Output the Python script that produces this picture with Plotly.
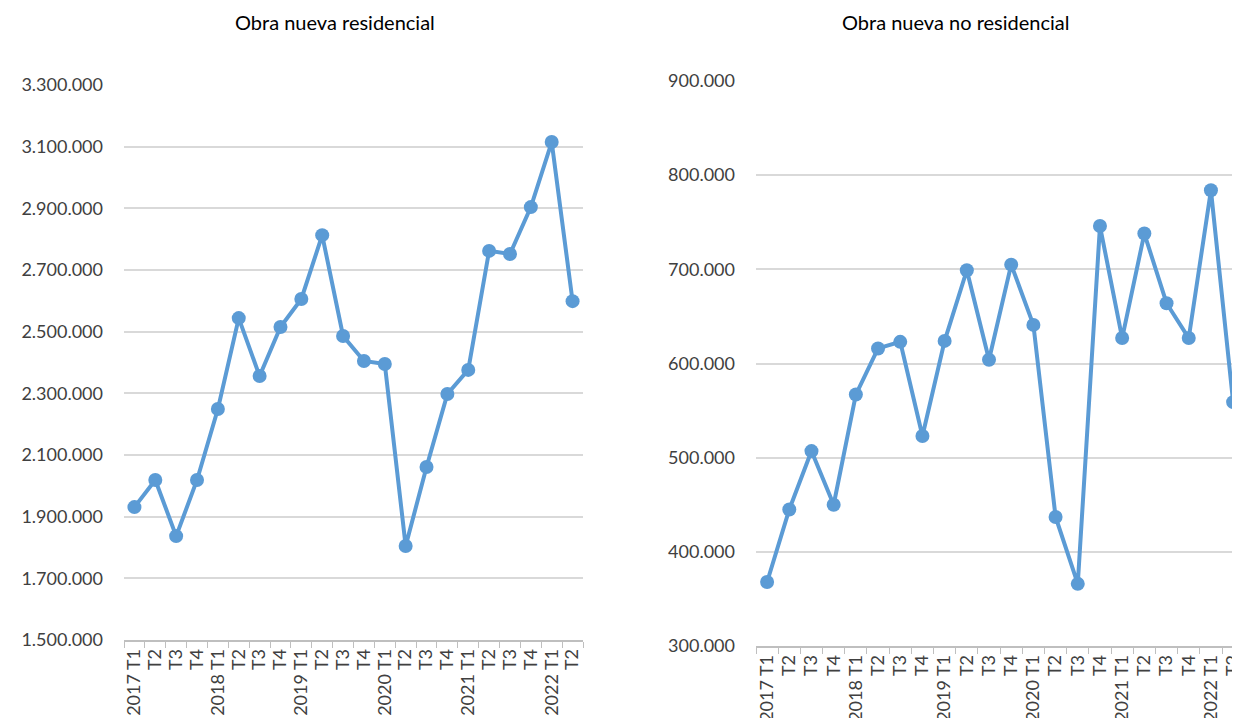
import plotly.graph_objects as go

# Trimestres 2017 T1 - 2022 T2
periodos = ["2017T1", "2017T2", "2017T3", "2017T4",
            "2018T1", "2018T2", "2018T3", "2018T4",
            "2019T1", "2019T2", "2019T3", "2019T4",
            "2020T1", "2020T2", "2020T3", "2020T4",
            "2021T1", "2021T2", "2021T3", "2021T4",
            "2022T1", "2022T2"]
etiquetas = ["2017 T1", "T2", "T3", "T4",
             "2018 T1", "T2", "T3", "T4",
             "2019 T1", "T2", "T3", "T4",
             "2020 T1", "T2", "T3", "T4",
             "2021 T1", "T2", "T3", "T4",
             "2022 T1", "T2"]

residencial = [1931000, 2019000, 1837000, 2019000,
               2249000, 2544000, 2356000, 2515000,
               2606000, 2813000, 2486000, 2405000,
               2395000, 1805000, 2061000, 2298000,
               2376000, 2762000, 2752000, 2904000,
               3115000, 2599000]

no_residencial = [368000, 445000, 507000, 450000,
                  567000, 616000, 623000, 523000,
                  624000, 699000, 604000, 705000,
                  641000, 437000, 366000, 746000,
                  627000, 738000, 664000, 627000,
                  784000, 559000]

AZUL = "#5B9BD5"
# la página tiene 8 px de margen, la figura se ajusta para ocupar la ventana
OFF = 8
W, H = 1240 - OFF, 718 - OFF
FUENTE = "Lato, 'Open Sans', sans-serif"


def px_x(x):
    return (x - OFF) / W


def px_y(y):
    return (718 - y) / H


fig = go.Figure()

fig.add_trace(go.Scatter(
    x=periodos, y=residencial, xaxis="x", yaxis="y",
    mode="lines+markers",
    line=dict(color=AZUL, width=4),
    marker=dict(color=AZUL, size=14),
    showlegend=False
))
fig.add_trace(go.Scatter(
    x=periodos, y=no_residencial, xaxis="x2", yaxis="y2",
    mode="lines+markers",
    line=dict(color=AZUL, width=4),
    marker=dict(color=AZUL, size=14),
    showlegend=False
))

eje_x = dict(
    type="category", tickson="boundaries", ticks="outside", ticklen=6,
    tickcolor="#BFBFBF", showline=True, linecolor="#BFBFBF", linewidth=1.5,
    showgrid=False, tickangle=-90, tickvals=periodos, ticktext=etiquetas,
    tickfont=dict(size=18, color="#404040", family=FUENTE),
    automargin=False, fixedrange=True
)
eje_y = dict(
    showgrid=True, gridcolor="#D9D9D9", gridwidth=1.5, zeroline=False,
    showline=False, ticks="", tickformat=",d",
    tickfont=dict(size=18, color="#404040", family=FUENTE),
    ticklabelstandoff=20, automargin=False
)

fig.update_layout(
    width=W, height=H,
    margin=dict(l=0, r=0, t=0, b=0),
    paper_bgcolor="white", plot_bgcolor="white",
    separators=",.",
    font=dict(family=FUENTE, color="#404040"),
    xaxis=dict(eje_x, domain=[px_x(124), px_x(583)], anchor="y", range=[-0.5, 21.5]),
    yaxis=dict(eje_y, domain=[px_y(640), px_y(85)], anchor="x",
               range=[1500000, 3300000], dtick=200000, tick0=1500000),
    xaxis2=dict(eje_x, domain=[px_x(756), 1.0], anchor="y2", range=[-0.5, 21.31]),
    yaxis2=dict(eje_y, domain=[px_y(646), px_y(81)], anchor="x2",
                range=[300000, 900000], dtick=100000, tick0=300000),
    annotations=[
        dict(text="Obra nueva residencial", x=px_x(335), y=px_y(22),
             xref="paper", yref="paper", xanchor="center", yanchor="middle",
             showarrow=False, font=dict(size=20, color="#000000", family=FUENTE)),
        dict(text="Obra nueva no residencial", x=px_x(956), y=px_y(22),
             xref="paper", yref="paper", xanchor="center", yanchor="middle",
             showarrow=False, font=dict(size=20, color="#000000", family=FUENTE)),
    ]
)

fig.write_html("out.html")
